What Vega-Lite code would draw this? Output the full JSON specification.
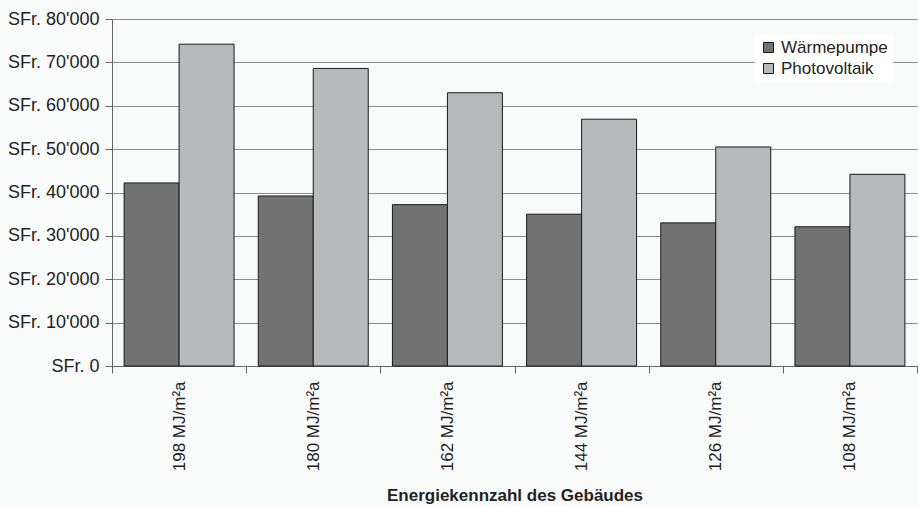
{
  "$schema": "https://vega.github.io/schema/vega-lite/v6.json",
  "width": 805,
  "height": 347,
  "autosize": {"type": "none"},
  "padding": {"left": 112, "top": 19, "right": 1, "bottom": 140},
  "background": "#f9fafa",
  "config": {
    "font": "Liberation Sans",
    "view": {"stroke": null},
    "axis": {"labelColor": "#222", "titleColor": "#222", "domainColor": "#666", "tickColor": "#666"}
  },
  "data": {
    "values": [
      {"kat": "198 MJ/m²a", "typ": "Wärmepumpe", "wert": 42200},
      {"kat": "198 MJ/m²a", "typ": "Photovoltaik", "wert": 74200},
      {"kat": "180 MJ/m²a", "typ": "Wärmepumpe", "wert": 39200},
      {"kat": "180 MJ/m²a", "typ": "Photovoltaik", "wert": 68600},
      {"kat": "162 MJ/m²a", "typ": "Wärmepumpe", "wert": 37200},
      {"kat": "162 MJ/m²a", "typ": "Photovoltaik", "wert": 63000},
      {"kat": "144 MJ/m²a", "typ": "Wärmepumpe", "wert": 35000},
      {"kat": "144 MJ/m²a", "typ": "Photovoltaik", "wert": 56900},
      {"kat": "126 MJ/m²a", "typ": "Wärmepumpe", "wert": 33000},
      {"kat": "126 MJ/m²a", "typ": "Photovoltaik", "wert": 50500},
      {"kat": "108 MJ/m²a", "typ": "Wärmepumpe", "wert": 32100},
      {"kat": "108 MJ/m²a", "typ": "Photovoltaik", "wert": 44200}
    ]
  },
  "mark": {"type": "bar", "stroke": "#1a1a1a", "strokeWidth": 1},
  "encoding": {
    "x": {
      "field": "kat",
      "type": "nominal",
      "sort": null,
      "scale": {"paddingInner": 0, "paddingOuter": 0},
      "axis": {
        "title": "Energiekennzahl des Gebäudes",
        "titleFontSize": 17,
        "titleFontWeight": "bold",
        "titlePadding": 17,
        "labelAngle": -90,
        "labelFontSize": 17,
        "labelPadding": 8,
        "tickBand": "extent",
        "tickSize": 7,
        "grid": false
      }
    },
    "xOffset": {
      "field": "typ",
      "type": "nominal",
      "sort": ["Wärmepumpe", "Photovoltaik"],
      "scale": {"paddingInner": 0, "paddingOuter": 0.22}
    },
    "y": {
      "field": "wert",
      "type": "quantitative",
      "scale": {"domain": [0, 80000], "nice": false},
      "axis": {
        "title": null,
        "values": [0, 10000, 20000, 30000, 40000, 50000, 60000, 70000, 80000],
        "labelExpr": "'SFr. ' + replace(format(datum.value, ','), ',', \"'\")",
        "labelFontSize": 18,
        "labelPadding": 6,
        "tickSize": 7,
        "gridColor": "#8c8c8c",
        "gridWidth": 1
      }
    },
    "color": {
      "field": "typ",
      "type": "nominal",
      "sort": ["Wärmepumpe", "Photovoltaik"],
      "scale": {"domain": ["Wärmepumpe", "Photovoltaik"], "range": ["#727272", "#b7b9bb"]},
      "legend": {
        "title": null,
        "orient": "none",
        "legendX": 643,
        "legendY": 15,
        "fillColor": "#ffffff",
        "padding": 5,
        "symbolType": "square",
        "symbolSize": 100,
        "symbolStrokeColor": "#1a1a1a",
        "symbolStrokeWidth": 1,
        "labelFontSize": 17,
        "labelColor": "#222",
        "rowPadding": 3
      }
    }
  }
}
